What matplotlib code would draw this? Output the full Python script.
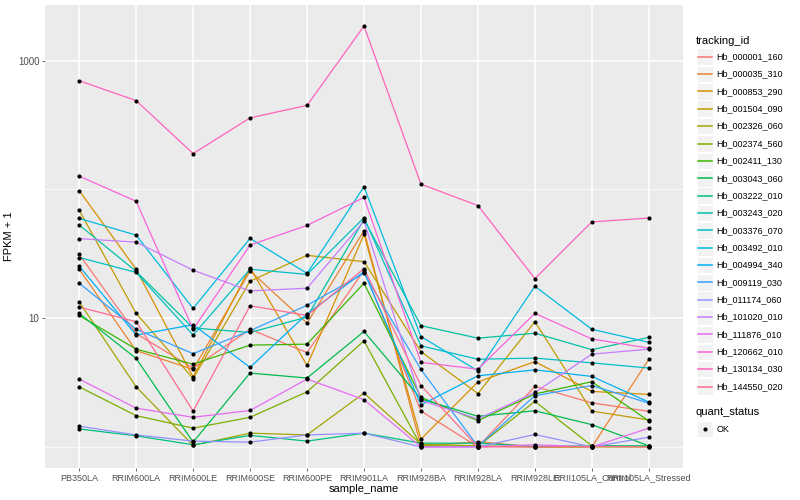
import numpy as np
import matplotlib
matplotlib.use('Agg')
import matplotlib.pyplot as plt
from matplotlib.patches import Rectangle

plt.rcParams['font.family'] = ['Liberation Sans', 'DejaVu Sans']

samples = ['PB350LA', 'RRIM600LA', 'RRIM600LE', 'RRIM600SE', 'RRIM600PE', 'RRIM901LA',
           'RRIM928BA', 'RRIM928LA', 'RRIM928LE', 'RRII105LA_Control', 'RRII105LA_Stressed']

tracking_ids = ['Hb_000001_160', 'Hb_000035_310', 'Hb_000853_290', 'Hb_001504_090',
                'Hb_002326_060', 'Hb_002374_560', 'Hb_002411_130', 'Hb_003043_060',
                'Hb_003222_010', 'Hb_003243_020', 'Hb_003376_070', 'Hb_003492_010',
                'Hb_004994_340', 'Hb_009119_030', 'Hb_011174_060', 'Hb_101020_010',
                'Hb_111876_010', 'Hb_120662_010', 'Hb_130134_030', 'Hb_144550_020']

# ggplot hue palette, 20 levels
colors = ['#F8766D', '#EA8331', '#D89000', '#C09B00', '#A3A500', '#7CAE00', '#39B600',
          '#00BB4E', '#00BF7D', '#00C1A3', '#00BFC4', '#00BAE0', '#00B0F6', '#35A2FF',
          '#9590FF', '#C77CFF', '#E76BF3', '#FA62DB', '#FF62BC', '#FF6C91']

# FPKM + 1, one list per gene, in sample order
hb_000001_160 = [31.3, 7.6, 4.1, 8.2, 5.4, 23.6, 1.9, 1.0, 2.95, 2.2, 1.89]
hb_000035_310 = [24.0, 5.6, 4.0, 23.3, 9.15, 48.0, 1.01, 1.1, 1.0, 1.0, 4.8]
hb_000853_290 = [98.0, 24.0, 3.5, 24.7, 4.3, 44.8, 1.15, 3.2, 4.6, 2.7, 2.56]
hb_001504_090 = [69.0, 10.9, 3.4, 19.4, 30.8, 27.5, 5.5, 2.6, 9.4, 1.9, 1.62]
hb_002326_060 = [13.4, 2.93, 1.03, 1.28, 1.24, 2.62, 1.05, 1.02, 1.0, 1.0, 1.0]
hb_002374_560 = [2.93, 1.75, 1.4, 1.7, 2.68, 6.67, 1.02, 1.01, 2.26, 1.02, 1.01]
hb_002411_130 = [10.5, 5.75, 4.4, 6.18, 6.29, 18.7, 2.43, 1.6, 2.58, 3.21, 1.59]
hb_003043_060 = [10.9, 4.87, 1.09, 3.75, 3.43, 7.89, 2.36, 1.73, 1.91, 1.49, 1.02]
hb_003222_010 = [1.38, 1.22, 1.04, 1.23, 1.11, 1.28, 1.07, 1.07, 1.01, 1.02, 1.02]
hb_003243_020 = [53.0, 23.1, 8.4, 7.75, 10.2, 58.5, 8.75, 7.0, 7.65, 5.7, 7.1]
hb_003376_070 = [29.6, 22.7, 7.4, 24.0, 21.9, 60.3, 6.1, 4.8, 4.9, 4.5, 4.1]
hb_003492_010 = [59.6, 44.2, 11.9, 41.7, 22.3, 105.0, 7.2, 3.9, 17.7, 8.2, 6.5]
hb_004994_340 = [25.4, 7.4, 8.9, 4.15, 10.8, 23.0, 2.12, 3.57, 3.97, 3.53, 2.23]
hb_009119_030 = [18.7, 8.2, 5.3, 8.0, 12.6, 22.3, 4.0, 1.01, 2.5, 3.0, 2.19]
hb_011174_060 = [1.45, 1.24, 1.11, 1.09, 1.24, 1.28, 1.0, 1.0, 1.25, 1.0, 1.19]
hb_101020_010 = [41.5, 39.0, 23.6, 16.3, 17.1, 56.8, 2.3, 1.65, 2.65, 5.26, 5.75]
hb_111876_010 = [3.37, 2.0, 1.7, 1.92, 3.37, 2.33, 1.0, 1.0, 1.04, 1.0, 1.4]
hb_120662_010 = [127.0, 81.0, 8.2, 37.0, 52.6, 86.7, 4.54, 4.02, 10.9, 6.9, 5.85]
hb_130134_030 = [700.0, 490.0, 190.0, 360.0, 450.0, 1860.0, 110.0, 75.0, 20.3, 56.0, 60.0]
hb_144550_020 = [12.2, 9.4, 1.9, 12.5, 10.5, 24.3, 3.0, 1.0, 1.0, 1.01, 1.0]

series = [hb_000001_160, hb_000035_310, hb_000853_290, hb_001504_090, hb_002326_060,
          hb_002374_560, hb_002411_130, hb_003043_060, hb_003222_010, hb_003243_020,
          hb_003376_070, hb_003492_010, hb_004994_340, hb_009119_030, hb_011174_060,
          hb_101020_010, hb_111876_010, hb_120662_010, hb_130134_030, hb_144550_020]

fig = plt.figure(figsize=(8, 5), dpi=100)
ax = fig.add_axes([45/800, 32/500, 638/800, 463/500])
ax.set_facecolor('#EBEBEB')
for s in ax.spines.values():
    s.set_visible(False)

x = np.arange(len(samples))
for vals, col in zip(series, colors):
    ax.plot(x, vals, color=col, lw=0.9, zorder=3)
for vals in series:
    ax.plot(x, vals, 'o', color='black', ms=3.0, mew=0, zorder=4)

ax.set_yscale('log')
allv = np.log10(np.concatenate([np.array(v) for v in series]))
lo, hi = allv.min(), allv.max()
pad = 0.05 * (hi - lo)
ax.set_ylim(10 ** (lo - pad), 10 ** (hi + pad))
ax.set_xlim(-0.6, len(samples) - 0.4)

# grid
for yv in [10, 1000]:
    ax.axhline(yv, color='white', lw=1.1, zorder=1)
for yv in [1, 100]:
    ax.axhline(yv, color='white', lw=0.55, zorder=1)
for xv in x:
    ax.axvline(xv, color='white', lw=1.1, zorder=1)

ax.set_yticks([10, 1000])
ax.set_yticklabels(['10', '1000'])
ax.yaxis.set_minor_locator(matplotlib.ticker.NullLocator())
ax.set_xticks(x)
ax.set_xticklabels(samples)
ax.tick_params(axis='both', length=2.5, width=0.5, color='#333333', labelcolor='#4D4D4D', pad=1.5)
ax.tick_params(axis='x', labelsize=6.5)
ax.tick_params(axis='y', labelsize=7)
ax.set_xlabel('sample_name', fontsize=8, labelpad=1)
ax.set_ylabel('FPKM + 1', fontsize=8, labelpad=3)

# legend drawn in pixel coordinates
lg = fig.add_axes([0, 0, 1, 1], zorder=5)
lg.set_xlim(0, 800)
lg.set_ylim(500, 0)
lg.axis('off')
lg.text(696, 40.7, 'tracking_id', fontsize=8, va='center', ha='left')
for i, (tid, col) in enumerate(zip(tracking_ids, colors)):
    yc = 56.7 + i * 17.36
    lg.add_patch(Rectangle((696.5, yc - 8.3), 16.5, 16.6, fc='#F2F2F2', ec='white', lw=0.8, zorder=1))
    lg.plot([698, 711.5], [yc, yc], color=col, lw=1.1, zorder=2)
    lg.text(716.5, yc, tid, fontsize=6.5, va='center', ha='left')
lg.text(696, 412.3, 'quant_status', fontsize=8, va='center', ha='left')
lg.add_patch(Rectangle((696.5, 429 - 8.3), 16.5, 16.6, fc='#F2F2F2', ec='white', lw=0.8, zorder=1))
lg.plot([704.7], [429], 'o', color='black', ms=3.0, mew=0, zorder=2)
lg.text(716.5, 429, 'OK', fontsize=6.5, va='center', ha='left')

fig.savefig('out.png', dpi=100)
